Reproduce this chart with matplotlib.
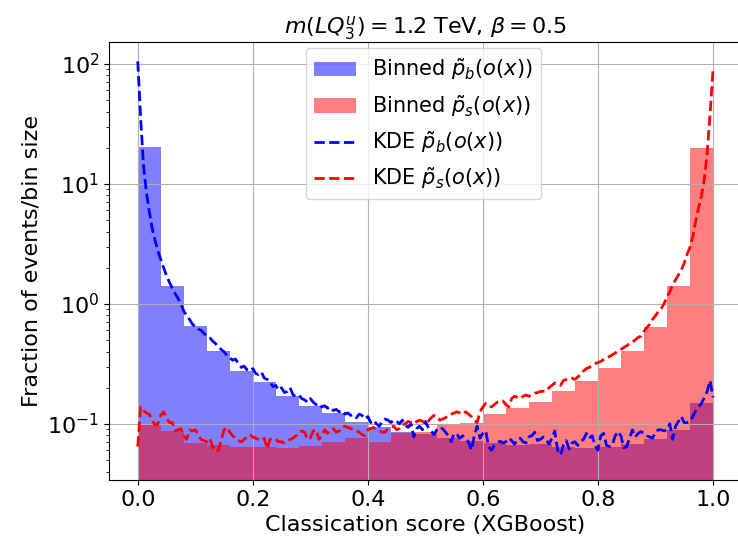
import numpy as np
import matplotlib
matplotlib.use("Agg")
import matplotlib.pyplot as plt

# histogram heights (fraction of events / bin size), 25 bins on [0, 1]
bin_edges = np.linspace(0.0, 1.0, 26)
hist_b = [20.2, 1.41, 0.647, 0.406, 0.277, 0.221, 0.171, 0.141, 0.123, 0.104,
          0.094, 0.086, 0.082, 0.076, 0.072, 0.069, 0.067, 0.068, 0.064, 0.063,
          0.064, 0.068, 0.075, 0.088, 0.150]
hist_s = [0.098, 0.087, 0.069, 0.066, 0.064, 0.064, 0.063, 0.065, 0.070, 0.076,
          0.071, 0.083, 0.086, 0.098, 0.101, 0.121, 0.135, 0.153, 0.187, 0.228,
          0.291, 0.403, 0.644, 1.40, 19.7]

# KDE curves, log10 of density, read on a 0.005 grid
kde_score = np.linspace(0.0, 1.0, 201)
kde_b_log = [
    2.02, 1.55, 1.15, 0.93, 0.77, 0.63, 0.53, 0.44, 0.37, 0.30,
    0.235, 0.18, 0.13, 0.085, 0.045, 0.0, -0.06, -0.10, -0.13, -0.17,
    -0.19, -0.21, -0.22, -0.245, -0.27, -0.28, -0.31, -0.33, -0.36, -0.38,
    -0.40, -0.43, -0.45, -0.47, -0.46, -0.50, -0.53, -0.52, -0.55, -0.56,
    -0.54, -0.58, -0.59, -0.57, -0.62, -0.63, -0.65, -0.69, -0.68, -0.72,
    -0.70, -0.74, -0.73, -0.70, -0.76, -0.77, -0.76, -0.79, -0.80, -0.82,
    -0.79, -0.82, -0.84, -0.83, -0.86, -0.85, -0.87, -0.86, -0.89, -0.88,
    -0.90, -0.89, -0.92, -0.91, -0.93, -0.925, -0.95, -0.92, -0.93, -0.96,
    -0.94, -0.99, -0.97, -1.00, -1.02, -0.98, -0.96, -0.97, -0.99, -0.97,
    -0.98, -1.00, -0.97, -1.01, -1.03, -1.00, -1.11, -1.04, -1.02, -1.05,
    -0.98, -1.03, -1.06, -1.09, -1.05, -1.03, -1.04, -1.07, -1.10, -1.15,
    -1.08, -1.09, -1.12, -1.10, -1.13, -1.15, -1.22, -1.10, -1.02, -1.12,
    -1.08, -1.06, -1.19, -1.22, -1.18, -1.16, -1.145, -1.16, -1.15, -1.12,
    -1.14, -1.17, -1.13, -1.12, -1.15, -1.16, -1.11, -1.10, -1.07, -1.14,
    -1.13, -1.11, -1.13, -1.17, -1.12, -1.06, -1.22, -1.26, -1.18, -1.14,
    -1.21, -1.16, -1.15, -1.18, -1.15, -1.13, -1.08, -1.12, -1.10, -1.18,
    -1.22, -1.10, -1.08, -1.18, -1.19, -1.18, -1.10, -1.065, -1.10, -1.20,
    -1.19, -1.12, -1.05, -1.11, -1.08, -1.065, -1.08, -1.10, -1.11, -1.12,
    -1.07, -1.05, -1.05, -1.06, -1.05, -1.00, -1.13, -1.02, -0.98, -0.94,
    -0.99, -0.99, -0.98, -0.94, -0.89, -0.86, -0.83, -0.78, -0.73, -0.64,
    -0.78,
]
kde_s_log = [
    -1.19, -0.86, -0.89, -0.91, -0.92, -0.97, -1.01, -1.00, -0.93, -0.90,
    -0.95, -0.99, -0.99, -1.06, -1.05, -1.04, -1.10, -1.13, -1.05, -1.06,
    -1.05, -1.09, -1.13, -1.14, -1.15, -1.12, -1.19, -1.23, -1.22, -1.14,
    -1.05, -1.03, -1.07, -1.10, -1.12, -1.14, -1.15, -1.13, -1.11, -1.09,
    -1.11, -1.12, -1.13, -1.14, -1.12, -1.21, -1.13, -1.12, -1.13, -1.15,
    -1.15, -1.16, -1.14, -1.13, -1.12, -1.10, -1.08, -1.06, -1.07, -1.13,
    -1.12, -1.06, -1.05, -1.13, -1.10, -1.05, -1.08, -1.05, -1.04, -1.07,
    -1.06, -1.03, -1.02, -1.03, -1.04, -1.05, -1.06, -1.07, -1.09, -1.10,
    -1.05, -1.04, -1.03, -1.05, -1.06, -1.07, -1.07, -1.04, -1.03, -1.02,
    -1.05, -1.04, -1.01, -1.00, -0.98, -0.99, -1.00, -0.98, -0.97, -0.98,
    -1.00, -0.98, -0.95, -0.93, -0.94, -0.97, -0.96, -0.95, -0.93, -0.92,
    -0.91, -0.90, -0.91, -0.92, -0.90, -0.92, -0.94, -0.97, -0.99, -0.90,
    -0.86, -0.83, -0.85, -0.86, -0.84, -0.82, -0.81, -0.81, -0.84, -0.86,
    -0.79, -0.77, -0.78, -0.79, -0.77, -0.76, -0.77, -0.76, -0.745, -0.74,
    -0.73, -0.73, -0.73, -0.70, -0.68, -0.66, -0.67, -0.68, -0.64, -0.63,
    -0.62, -0.62, -0.63, -0.61, -0.59, -0.56, -0.54, -0.53, -0.515, -0.50,
    -0.49, -0.48, -0.465, -0.45, -0.44, -0.425, -0.41, -0.395, -0.38, -0.365,
    -0.35, -0.33, -0.32, -0.30, -0.28, -0.27, -0.23, -0.20, -0.17, -0.13,
    -0.10, -0.065, -0.04, 0.0, 0.06, 0.10, 0.16, 0.20, 0.24, 0.28,
    0.34, 0.41, 0.47, 0.56, 0.69, 0.80, 0.90, 1.04, 1.26, 1.58,
    1.94,
]

fig = plt.figure(figsize=(7.38, 5.41), dpi=100)
# the original picture is cropped just before the right spine
ax = fig.add_axes([109 / 738, 1 - 480 / 541, 632.7 / 738, 438 / 541])
ax.spines["right"].set_visible(False)

width = bin_edges[1] - bin_edges[0]
bars_b = ax.bar(bin_edges[:-1], hist_b, width=width, align="edge", color="blue",
                alpha=0.5, linewidth=0)
bars_s = ax.bar(bin_edges[:-1], hist_s, width=width, align="edge", color="red",
                alpha=0.5, linewidth=0)
line_b, = ax.plot(kde_score, 10 ** np.array(kde_b_log), "b--", lw=2)
line_s, = ax.plot(kde_score, 10 ** np.array(kde_s_log), "r--", lw=2)

ax.set_yscale("log")
ax.set_xlim(-0.05, 1.05)
ax.set_ylim(0.034, 152)
ax.grid(True)
ax.tick_params(labelsize=16)
ax.set_xlabel("Classication score (XGBoost)", fontsize=16)
ax.set_ylabel("Fraction of events/bin size", fontsize=16)
ax.set_title(r"$m(LQ_3^u) = 1.2$ TeV, $\beta = 0.5$", fontsize=16)
ax.legend([bars_b, bars_s, line_b, line_s],
          [r"Binned $\tilde{p}_b(o(x))$", r"Binned $\tilde{p}_s(o(x))$",
           r"KDE $\tilde{p}_b(o(x))$", r"KDE $\tilde{p}_s(o(x))$"],
          loc="upper left", bbox_to_anchor=(0.311, 0.986), borderaxespad=0,
          fontsize=15)

fig.savefig("out.png", dpi=100)
